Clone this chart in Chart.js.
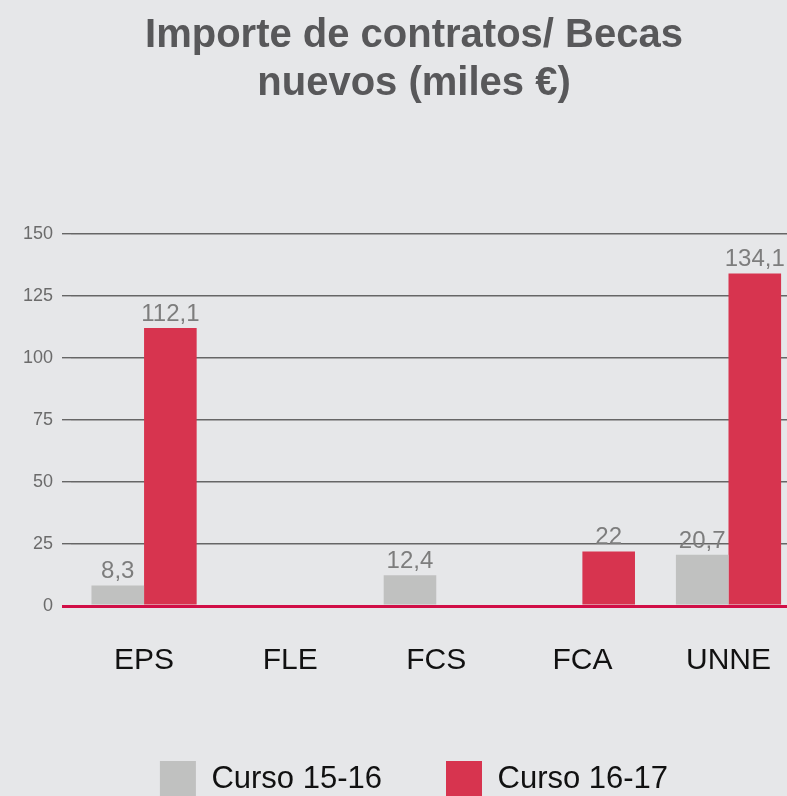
<!DOCTYPE html>
<html>
<head>
<meta charset="utf-8">
<script src="https://cdn.jsdelivr.net/npm/chart.js@4/dist/chart.umd.min.js"></script>
<style>
    html, body { margin: 0; padding: 0; background: #e6e7e9; overflow: hidden; }
    #wrap { width: 808px; height: 807px; position: relative; }
</style>
</head>
<body>
<div id="wrap"><canvas id="becasChart"></canvas></div>
<script>
const categories = ['EPS', 'FLE', 'FCS', 'FCA', 'UNNE'];
const curso1516 = [8.3, null, 12.4, null, 20.7];
const curso1617 = [112.1, null, null, 22, 134.1];
const seriesNames = ['Curso 15-16', 'Curso 16-17'];
const yTicks = [0, 25, 50, 75, 100, 125, 150];

const FONT = "'Liberation Sans', Arial, Helvetica, sans-serif";
const GREY = '#c0c1c0';
const RED = '#d7344f';
const ZERO_RED = '#d10f47';

// value labels above each bar, comma as decimal separator
const valueLabels = {
    id: 'valueLabels',
    afterDatasetsDraw(chart) {
        const ctx = chart.ctx;
        ctx.save();
        ctx.font = '24px ' + FONT;
        ctx.fillStyle = '#7d7d7d';
        ctx.textAlign = 'center';
        ctx.textBaseline = 'alphabetic';
        chart.data.datasets.forEach((ds, i) => {
            const meta = chart.getDatasetMeta(i);
            meta.data.forEach((bar, j) => {
                const v = ds.data[j];
                if (v === null || v === undefined) return;
                ctx.fillText(String(v).replace('.', ','), bar.x, bar.y - 7);
            });
        });
        ctx.restore();
    }
};

const ctx = document.getElementById('becasChart').getContext('2d');
const chart = new Chart(ctx, {
    type: 'bar',
    data: {
        labels: categories,
        datasets: [{
            label: seriesNames[0],
            data: curso1516,
            backgroundColor: GREY,
            borderWidth: 0
        }, {
            label: seriesNames[1],
            data: curso1617,
            backgroundColor: RED,
            borderWidth: 0
        }]
    },
    options: {
        responsive: true,
        maintainAspectRatio: false,
        animation: false,
        devicePixelRatio: 1,
        layout: { padding: { left: 20, right: 0, top: 0, bottom: 0 } },
        datasets: {
            bar: { categoryPercentage: 0.72, barPercentage: 1 }
        },
        scales: {
            x: {
                z: 1,
                grid: { display: false, drawTicks: false },
                border: { display: true, color: ZERO_RED, width: 3 },
                ticks: {
                    color: '#111',
                    font: { family: FONT, size: 30 },
                    padding: 37
                },
                afterFit: s => { s.height = 91; }
            },
            y: {
                min: 0,
                max: 150,
                afterBuildTicks: s => { s.ticks = yTicks.map(v => ({ value: v })); },
                grid: {
                    color: c => (c.tick && c.tick.value === 0) ? ZERO_RED : '#666',
                    lineWidth: c => (c.tick && c.tick.value === 0) ? 3 : 1.4,
                    tickLength: 9
                },
                border: { display: false },
                ticks: {
                    color: '#6b6b6b',
                    font: { family: FONT, size: 18 },
                    padding: 9
                },
                afterFit: s => { s.width = 51; }
            }
        },
        plugins: {
            title: {
                display: true,
                text: ['Importe de contratos/ Becas', 'nuevos (miles €)'],
                color: '#58585a',
                font: { family: FONT, size: 40, weight: 'bold', lineHeight: 1.2 },
                padding: { top: 12, bottom: 126 }
            },
            legend: {
                display: true,
                position: 'bottom',
                labels: {
                    color: '#111',
                    font: { family: FONT, size: 31 },
                    boxWidth: 36,
                    boxHeight: 36,
                    padding: 64
                }
            },
            tooltip: { enabled: false }
        }
    },
    plugins: [valueLabels]
});
</script>
</body>
</html>
